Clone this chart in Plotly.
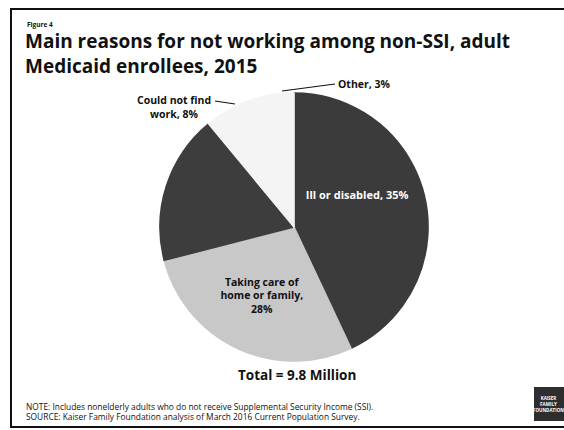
import plotly.graph_objects as go

# Reasons for not working (share of non-SSI adult Medicaid enrollees, 2015)
reasons = [
    "Ill or disabled",
    "Retired",
    "Taking care of home or family",
    "Going to school",
    "Could not find work",
    "Other",
]
shares = [35, 8, 28, 18, 8, 3]
slice_colors = ["#3b3b3b", "#3b3b3b", "#c8c8c8", "#3d3d3d", "#f4f4f4", "#f4f4f4"]
slice_text = [
    "<b>Ill or disabled, 35%</b>",
    "",
    "<b>Taking care of<br>home or family,<br>28%</b>",
    "",
    "",
    "",
]
text_pos = ["inside", "none", "inside", "none", "none", "none"]
text_colors = ["#ffffff", "#ffffff", "#111111", "#ffffff", "#111111", "#111111"]
text_sizes = [11, 11, 10.5, 11, 11, 11]

title_lines = ["Main reasons for not working among non-SSI, adult", "Medicaid enrollees, 2015"]
figure_tag = "Figure 4"
total_text = "Total = 9.8 Million"
note_text = "NOTE: Includes nonelderly adults who do not receive Supplemental Security Income (SSI)."
source_text = "SOURCE: Kaiser Family Foundation analysis of March 2016 Current Population Survey."

W, H = 564, 430
FONT = "'Open Sans', Lato, sans-serif"


def px(x):
    return x / W


def py(y):
    return 1 - y / H


# pie placed by its centre and radius in pixels
cx, cy, r = 294, 227, 134

fig = go.Figure(
    go.Pie(
        labels=reasons,
        values=shares,
        sort=False,
        direction="clockwise",
        rotation=0,
        marker=dict(colors=slice_colors, line=dict(color=slice_colors, width=1.6)),
        text=slice_text,
        texttemplate="%{text}",
        textposition=text_pos,
        insidetextorientation="horizontal",
        insidetextfont=dict(family=FONT, size=text_sizes, color=text_colors),
        showlegend=False,
        hoverinfo="label+percent",
        domain=dict(x=[px(cx - r), px(cx + r)], y=[py(cy + r), py(cy - r)]),
    )
)

annotations = [
    dict(x=px(25), y=py(24), text=f"<b>{figure_tag}</b>", xanchor="left", yanchor="middle",
         font=dict(size=6.5, color="#111")),
    dict(x=px(23), y=py(54), text="<b>" + "<br>".join(title_lines) + "</b>", xanchor="left",
         yanchor="middle", align="left", font=dict(size=19, color="#111")),
    dict(x=px(297), y=py(375), text=f"<b>{total_text}</b>", xanchor="center", yanchor="middle",
         font=dict(size=13.5, color="#111")),
    dict(x=px(24), y=py(406), text=note_text, xanchor="left", yanchor="middle",
         font=dict(size=8.4, color="#111")),
    dict(x=px(24), y=py(416), text=source_text, xanchor="left", yanchor="middle",
         font=dict(size=8.4, color="#111")),
    # outside labels for the two small slices
    dict(x=px(213), y=py(100), text="<b>Could not find</b>", xanchor="right", yanchor="middle",
         font=dict(size=10.5, color="#111")),
    dict(x=px(174), y=py(114), text="<b>work, 8%</b>", xanchor="center", yanchor="middle",
         font=dict(size=10.5, color="#111")),
    dict(x=px(336), y=py(84), text="<b>Other, 3%</b>", xanchor="left", yanchor="middle",
         font=dict(size=10.5, color="#111")),
    # foundation mark in the lower right corner
    dict(x=px(548), y=py(404), text="<b>KAISER<br>FAMILY<br>FOUNDATION</b>", xanchor="center",
         yanchor="middle", font=dict(size=4.5, color="#ffffff")),
]
for a in annotations:
    a["showarrow"] = False
    a["xref"] = "paper"
    a["yref"] = "paper"
    a["font"]["family"] = FONT

shapes = [
    # slide frame
    dict(type="rect", x0=px(11), x1=px(575), y0=py(427), y1=py(9),
         line=dict(color="#111", width=2)),
    # leader lines
    dict(type="line", x0=px(215), y0=py(101), x1=px(235), y1=py(104),
         line=dict(color="#111", width=1.2)),
    dict(type="line", x0=px(282), y0=py(91), x1=px(335), y1=py(84),
         line=dict(color="#111", width=1.2)),
    # logo block
    dict(type="rect", x0=px(534), x1=px(570), y0=py(421), y1=py(387),
         fillcolor="#2e2e2e", line=dict(width=0)),
]
for s in shapes:
    s["xref"] = "paper"
    s["yref"] = "paper"

fig.update_layout(
    width=W,
    height=H,
    margin=dict(l=0, r=0, t=0, b=0),
    paper_bgcolor="#ffffff",
    plot_bgcolor="#ffffff",
    font=dict(family=FONT, color="#111"),
    annotations=annotations,
    shapes=shapes,
)

fig.write_html("out.html")
